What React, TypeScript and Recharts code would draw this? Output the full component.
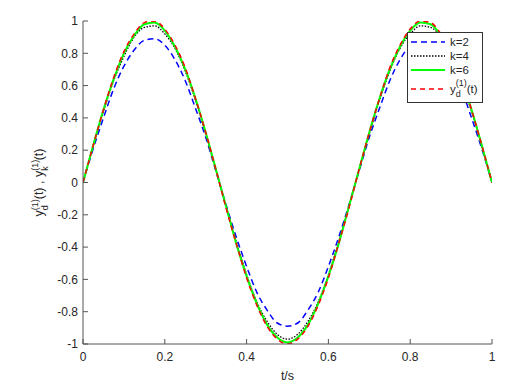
import React from 'react';
import { LineChart, Line, XAxis, YAxis, Legend, Label } from 'recharts';

const tValues = [0,0.025,0.05,0.075,0.1,0.125,0.15,0.175,0.2,0.225,0.25,0.275,0.3,0.325,0.35,0.375,0.4,0.425,0.45,0.475,0.5,0.525,0.55,0.575,0.6,0.625,0.65,0.675,0.7,0.725,0.75,0.775,0.8,0.825,0.85,0.875,0.9,0.925,0.95,0.975,1];
const k2 = [0,0.21,0.40,0.58,0.72,0.82,0.88,0.89,0.85,0.76,0.63,0.46,0.28,0.07,-0.14,-0.34,-0.52,-0.68,-0.79,-0.87,-0.89,-0.87,-0.79,-0.68,-0.52,-0.34,-0.14,0.07,0.28,0.46,0.63,0.76,0.85,0.89,0.88,0.82,0.72,0.58,0.40,0.21,0];
const k4 = [0,0.23,0.44,0.63,0.78,0.90,0.96,0.97,0.92,0.83,0.69,0.51,0.30,0.08,-0.15,-0.37,-0.57,-0.74,-0.86,-0.94,-0.97,-0.94,-0.86,-0.74,-0.57,-0.37,-0.15,0.08,0.30,0.51,0.69,0.83,0.92,0.97,0.96,0.90,0.78,0.63,0.44,0.23,0];
const k6 = [0,0.23,0.45,0.64,0.80,0.91,0.98,0.99,0.94,0.84,0.70,0.52,0.31,0.08,-0.15,-0.38,-0.58,-0.75,-0.88,-0.96,-0.99,-0.96,-0.88,-0.75,-0.58,-0.38,-0.15,0.08,0.31,0.52,0.70,0.84,0.94,0.99,0.98,0.91,0.80,0.64,0.45,0.23,0];
const yd = [0,0.23,0.45,0.65,0.81,0.92,0.99,1.0,0.95,0.85,0.71,0.52,0.31,0.08,-0.16,-0.38,-0.59,-0.76,-0.89,-0.97,-1.0,-0.97,-0.89,-0.76,-0.59,-0.38,-0.16,0.08,0.31,0.52,0.71,0.85,0.95,1.0,0.99,0.92,0.81,0.65,0.45,0.23,0];

const xTicks = [0, 0.2, 0.4, 0.6, 0.8, 1];
const yTicks = [-1, -0.8, -0.6, -0.4, -0.2, 0, 0.2, 0.4, 0.6, 0.8, 1];

const data = tValues.map((t, i) => ({ t, k2: k2[i], k4: k4[i], k6: k6[i], yd: yd[i] }));

const FONT = 'Liberation Sans, Arial, sans-serif';
const AXIS_COLOR = '#555';
const TEXT_COLOR = '#262626';

const series = [
  { key: 'k2', label: 'k=2', color: '#0000ff', dash: '6 4', width: 1.5 },
  { key: 'k4', label: 'k=4', color: '#000000', dash: '1.5 1.5', width: 1.3 },
  { key: 'k6', label: 'k=6', color: '#00ff00', dash: undefined as string | undefined, width: 2 },
  { key: 'yd', label: 'yd', color: '#ff0000', dash: '5 4', width: 1.5 },
];

const YdLabel = () => (
  <span>
    y
    <span style={{ display: 'inline-block', position: 'relative', width: 11, height: 10, fontSize: 9 }}>
      <span style={{ position: 'absolute', left: 0, top: -7 }}>(1)</span>
      <span style={{ position: 'absolute', left: 0, top: 4 }}>d</span>
    </span>
    (t)
  </span>
);

const LegendBox = () => (
  <div
    style={{
      position: 'absolute',
      left: 407,
      top: 32,
      width: 74,
      height: 69,
      border: '1px solid #333',
      background: '#fff',
      fontFamily: FONT,
      fontSize: 11.5,
      color: TEXT_COLOR,
      boxSizing: 'content-box',
    }}
  >
    {series.map((s, i) => (
      <div key={s.key} style={{ position: 'absolute', left: 2, top: 1.5 + i * 14.2 + (i === 3 ? 4.5 : 0), height: 14, display: 'flex', alignItems: 'center' }}>
        <svg width={36} height={14} style={{ display: 'block' }}>
          <line x1={1} y1={7} x2={35} y2={7} stroke={s.color} strokeWidth={s.width} strokeDasharray={s.dash} />
        </svg>
        <span style={{ marginLeft: 4, whiteSpace: 'nowrap', lineHeight: '14px' }}>
          {s.key === 'yd' ? <YdLabel /> : s.label}
        </span>
      </div>
    ))}
  </div>
);

const YLabel = (props: any) => {
  const vb = props.viewBox || {};
  const cx = 43;
  const cy = vb.y + vb.height / 2;
  return (
    <text
      x={cx}
      y={cy}
      transform={`rotate(-90, ${cx}, ${cy})`}
      textAnchor="middle"
      fontFamily={FONT}
      fontSize={12.5}
      fill={TEXT_COLOR}
    >
      y
      <tspan dy={-5.5} fontSize={9}>(1)</tspan>
      <tspan dx={-11} dy={10} fontSize={9}>d</tspan>
      <tspan dx={6} dy={-4.5}>(t) , y</tspan>
      <tspan dy={-5.5} fontSize={9}>(1)</tspan>
      <tspan dx={-11} dy={10} fontSize={9}>k</tspan>
      <tspan dx={6} dy={-4.5}>(t)</tspan>
    </text>
  );
};

const XLabel = (props: any) => {
  const vb = props.viewBox || {};
  return (
    <text x={vb.x + vb.width / 2} y={vb.y + 36} textAnchor="middle" fontFamily={FONT} fontSize={12.5} fill={TEXT_COLOR}>
      t/s
    </text>
  );
};

export default function App() {
  return (
    <div style={{ position: 'absolute', left: 0, top: 0, width: 530, height: 390, background: '#fff' }}>
      <LineChart
        width={530}
        height={390}
        data={data}
        margin={{ top: 21, right: 38, left: 33, bottom: 6 }}
      >
        <XAxis
          xAxisId="bottom"
          dataKey="t"
          type="number"
          domain={[0, 1]}
          ticks={xTicks}
          orientation="bottom"
          height={40}
          tickSize={-5}
          tickMargin={13}
          stroke={AXIS_COLOR}
          tick={{ fill: TEXT_COLOR, fontSize: 12, fontFamily: FONT }}
          allowDataOverflow
        >
          <Label content={<XLabel />} />
        </XAxis>
        <XAxis
          xAxisId="top"
          dataKey="t"
          type="number"
          domain={[0, 1]}
          ticks={xTicks}
          orientation="top"
          height={0}
          tickSize={-5}
          tickFormatter={() => ''}
          stroke={AXIS_COLOR}
        />
        <YAxis
          yAxisId="left"
          type="number"
          domain={[-1, 1]}
          ticks={yTicks}
          width={50}
          tickSize={-5}
          tickMargin={10}
          stroke={AXIS_COLOR}
          tick={{ fill: TEXT_COLOR, fontSize: 12, fontFamily: FONT }}
          allowDataOverflow
        >
          <Label content={<YLabel />} />
        </YAxis>
        <YAxis
          yAxisId="right"
          orientation="right"
          type="number"
          domain={[-1, 1]}
          ticks={yTicks}
          width={0}
          tickSize={-5}
          tickFormatter={() => ''}
          stroke={AXIS_COLOR}
        />
        {series.map((s) => (
          <Line
            key={s.key}
            xAxisId="bottom"
            yAxisId="left"
            dataKey={s.key}
            type="monotone"
            stroke={s.color}
            strokeWidth={s.width}
            strokeDasharray={s.dash}
            dot={false}
            activeDot={false}
            isAnimationActive={false}
          />
        ))}
        <Legend content={<LegendBox />} wrapperStyle={{ position: 'absolute', left: 0, top: 0, width: 0, height: 0 }} />
      </LineChart>
    </div>
  );
}
